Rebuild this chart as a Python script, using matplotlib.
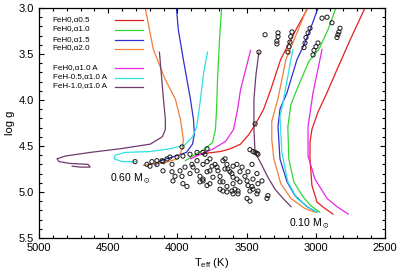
import numpy as np
import matplotlib
matplotlib.use('Agg')
import matplotlib.pyplot as plt
from matplotlib.ticker import MultipleLocator

plt.rcParams['font.family'] = ['Liberation Sans', 'DejaVu Sans']
plt.rcParams['mathtext.default'] = 'regular'

# model labels and colours
labels = ['FeH0,α0.5', 'FeH0,α1.0', 'FeH0,α1.5', 'FeH0,α2.0',
          'FeH0,α1.0 A', 'FeH-0.5,α1.0 A', 'FeH-1.0,α1.0 A']
colors = ['#e32020', '#33d633', '#3030d0', '#f0803a',
          '#e628e6', '#30e0e0', '#6e3b6e']

# 0.60 Msun tracks (Teff, log g)
t60_red = [3058, 3145, 3254, 3326, 3377, 3435, 3486, 3544, 3616, 3688, 3797, 3870]
g60_red = [3.00, 3.24, 3.56, 3.89, 4.10, 4.26, 4.38, 4.48, 4.53, 4.56, 4.58, 4.60]
t60_green = [3681, 3696, 3710, 3717, 3725, 3746, 3797, 3870, 3942]
g60_green = [3.00, 3.35, 3.78, 4.10, 4.32, 4.46, 4.53, 4.59, 4.66]
t60_blue = [4007, 3993, 3957, 3906, 3884, 3877, 3891, 3935, 4015, 4123, 4159]
g60_blue = [3.00, 3.24, 3.56, 3.99, 4.21, 4.37, 4.48, 4.57, 4.61, 4.66, 4.71]
t60_orange = [4232, 4174, 4087, 4015, 3978, 3957, 3964, 4000, 4087, 4196, 4246]
g60_orange = [3.00, 3.45, 3.78, 3.99, 4.21, 4.43, 4.53, 4.64, 4.68, 4.70, 4.71]
t60_mag = [3471, 3507, 3544, 3565, 3594, 3652, 3739, 3833, 3906]
g60_mag = [3.46, 3.67, 3.89, 4.10, 4.32, 4.45, 4.53, 4.59, 4.64]
t60_cyan = [3783, 3812, 3833, 3848, 3862, 3891, 3949, 4051, 4196, 4377, 4449, 4457, 4399, 4304]
g60_cyan = [3.48, 3.72, 3.99, 4.16, 4.30, 4.40, 4.49, 4.53, 4.56, 4.57, 4.60, 4.64, 4.67, 4.67]
t60_purple = [4130, 4116, 4101, 4087, 4087, 4109, 4196, 4413, 4630, 4812, 4870, 4855,
              4775, 4645, 4630, 4700, 4760]
g60_purple = [3.48, 3.72, 3.99, 4.21, 4.32, 4.40, 4.48, 4.53, 4.57, 4.61, 4.64, 4.67,
              4.69, 4.70, 4.73, 4.73, 4.72]

# 0.10 Msun tracks
t10_red = [2645, 2753, 2847, 2919, 2984, 3028, 3042, 3042, 3028, 2991, 2934, 2876]
g10_red = [3.00, 3.35, 3.67, 3.92, 4.13, 4.32, 4.46, 4.64, 4.93, 5.11, 5.18, 5.24]
t10_green = [2855, 2913, 2978, 3050, 3130, 3180, 3202, 3195, 3159, 3094, 3036, 2971]
g10_green = [3.00, 3.24, 3.45, 3.58, 3.86, 4.05, 4.29, 4.64, 4.89, 5.05, 5.15, 5.22]
t10_blue = [2984, 3042, 3085, 3136, 3208, 3259, 3273, 3259, 3208, 3150, 3064, 2991]
g10_blue = [3.00, 3.24, 3.40, 3.56, 3.92, 4.10, 4.29, 4.64, 4.89, 5.04, 5.16, 5.22]
t10_orange = [3063, 3128, 3172, 3216, 3274, 3318, 3318, 3303, 3253, 3180, 3079, 3007]
g10_orange = [3.00, 3.24, 3.40, 3.56, 3.99, 4.23, 4.43, 4.64, 4.91, 5.07, 5.18, 5.22]
t10_mag = [2955, 2970, 3020, 3056, 3056, 3006, 2919, 2847, 2767]
g10_mag = [3.45, 3.56, 3.92, 4.29, 4.61, 4.86, 5.07, 5.16, 5.24]
t10_cyan = [3165, 3180, 3237, 3259, 3245, 3202, 3136, 3042, 2991]
g10_cyan = [3.45, 3.56, 4.03, 4.18, 4.57, 4.89, 5.07, 5.18, 5.22]
t10_purple = [3411, 3432, 3447, 3447, 3439, 3403, 3346, 3295, 3237, 3179]
g10_purple = [3.48, 3.72, 3.99, 4.32, 4.57, 4.67, 4.84, 4.97, 5.07, 5.16]

tracks60 = [(t60_red, g60_red), (t60_green, g60_green), (t60_blue, g60_blue),
            (t60_orange, g60_orange), (t60_mag, g60_mag), (t60_cyan, g60_cyan),
            (t60_purple, g60_purple)]
tracks10 = [(t10_red, g10_red), (t10_green, g10_green), (t10_blue, g10_blue),
            (t10_orange, g10_orange), (t10_mag, g10_mag), (t10_cyan, g10_cyan),
            (t10_purple, g10_purple)]

# observed stars
obs_teff = [3367, 3273, 3273, 3281, 3281, 3172, 3181, 3187, 3194, 3201,
            3042, 3056, 3071, 3078, 3085, 2984, 2999, 3013, 3020, 2955,
            2919, 2883, 2825, 2833, 2840, 2847, 3411, 3439, 3967, 4306,
            3476, 3454, 3439, 3425, 3418,
            4220, 4184, 4148, 4111, 4075, 4054, 4003, 3960, 3909, 3858, 3786, 3815,
            4198, 4148, 4104, 4039, 4104, 4039, 4017, 4032, 3960, 3931,
            3945, 3981, 3967, 3909, 3887, 3858, 3895, 3858, 3837, 3786,
            3743, 3815, 3765, 3692, 3714, 3656, 3642, 3598, 3606, 3570,
            3642, 3671, 3584, 3562, 3786, 3750, 3801, 3765, 3815, 3728,
            3671, 3570, 3533, 3490, 3461, 3425, 3389, 3346, 3353, 3418,
            3425, 3476, 3490, 3497, 3461, 3548, 3598, 3598, 3606, 3598,
            3497, 3476, 3642, 3692, 3671, 3765, 3707, 3692, 3635, 3620,
            3548, 3512, 3454, 3418, 3815, 3786, 3837, 3656, 3562, 3454]
obs_logg = [3.29, 3.27, 3.31, 3.36, 3.39, 3.26, 3.31, 3.37, 3.42, 3.48,
            3.22, 3.27, 3.32, 3.38, 3.43, 3.38, 3.42, 3.46, 3.51, 3.11,
            3.10, 3.16, 3.22, 3.26, 3.29, 3.32, 3.48, 4.26, 4.51, 4.67,
            4.54, 4.56, 4.57, 4.58, 4.59,
            4.70, 4.67, 4.66, 4.66, 4.64, 4.62, 4.62, 4.61, 4.59, 4.57, 4.53, 4.57,
            4.72, 4.70, 4.67, 4.70, 4.77, 4.78, 4.83, 4.88, 4.91, 4.94,
            4.73, 4.77, 4.83, 4.80, 4.73, 4.77, 4.70, 4.66, 4.83, 4.78,
            4.84, 4.88, 4.91, 4.89, 4.73, 4.64, 4.70, 4.72, 4.80, 4.86,
            4.94, 4.99, 4.97, 5.02, 4.67, 4.72, 4.59, 4.64, 4.70, 4.70,
            4.66, 4.70, 4.73, 4.78, 4.70, 4.80, 4.88, 5.04, 5.07, 4.99,
            5.02, 4.99, 4.93, 4.88, 4.94, 4.89, 4.84, 4.91, 4.99, 5.02,
            5.07, 5.10, 5.00, 4.97, 4.89, 4.77, 4.77, 4.83, 4.75, 4.78,
            4.78, 4.83, 4.86, 4.91, 4.86, 4.93, 4.89, 4.75, 4.99, 4.97]

fig = plt.figure(figsize=(4, 2.77), dpi=100)
plt.subplots_adjust(left=0.0975, right=0.9625, bottom=0.141, top=0.971)
ax = fig.add_subplot(111)

for (t, g), c in zip(tracks60, colors):
    ax.plot(t, g, color=c, lw=0.9)
for (t, g), c in zip(tracks10, colors):
    ax.plot(t, g, color=c, lw=0.9)

ax.scatter(obs_teff, obs_logg, s=9, facecolors='none', edgecolors='#1a1a1a',
           linewidths=0.7, zorder=3)

ax.text(4340, 4.86, r'0.60 M$_\odot$', fontsize=7.5, ha='center', va='center')
ax.text(3045, 5.35, r'0.10 M$_\odot$', fontsize=7.5, ha='center', va='center')

# legend drawn by hand: text left, line right
rows = [0.952, 0.909, 0.865, 0.826, 0.743, 0.700, 0.661]
for lab, c, y in zip(labels, colors, rows):
    ax.text(0.040, y, lab, fontsize=5.8, ha='left', va='center', transform=ax.transAxes)
    ax.plot([0.220, 0.300], [y - 0.006, y - 0.006], color=c, lw=0.9,
            transform=ax.transAxes)

ax.set_xlim(5000, 2500)
ax.set_ylim(5.5, 3.0)
ax.xaxis.set_major_locator(MultipleLocator(500))
ax.xaxis.set_minor_locator(MultipleLocator(100))
ax.yaxis.set_major_locator(MultipleLocator(0.5))
ax.yaxis.set_minor_locator(MultipleLocator(0.1))
ax.yaxis.set_major_formatter(plt.FormatStrFormatter('%.1f'))
ax.tick_params(which='both', direction='in', top=True, right=True, labelsize=8, width=0.8)
ax.tick_params(which='major', length=3.8)
ax.tick_params(which='minor', length=2)
ax.set_xlabel('T$_{eff}$ (K)', fontsize=8, labelpad=2)
ax.set_ylabel('log g', fontsize=8, labelpad=3)
for s in ax.spines.values():
    s.set_linewidth(0.9)

fig.savefig('out.png', dpi=100)
